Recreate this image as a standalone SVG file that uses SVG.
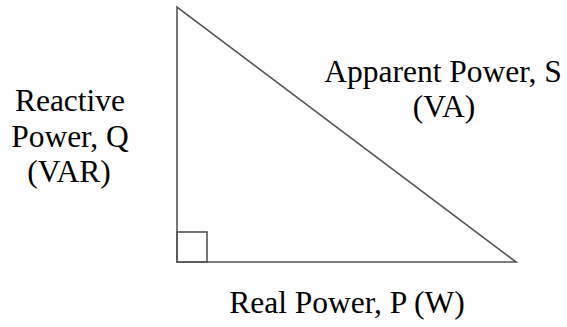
<svg xmlns="http://www.w3.org/2000/svg" width="567" height="327" viewBox="0 0 567 327">
<defs>
<linearGradient id="g" x1="177" y1="7" x2="380" y2="262" gradientUnits="userSpaceOnUse">
<stop offset="0" stop-color="#d9e2f3"/>
<stop offset="1" stop-color="#ffffff"/>
</linearGradient>
<style>
.lbl{font-size:31.5px;fill:#000;text-anchor:middle}
.edge{fill:none;stroke:#555;stroke-width:1.6;stroke-linejoin:miter}
</style>
</defs>
<rect width="567" height="327" fill="#fff"/>
<g id="triangle">
<polygon points="177,7 177,262 516,262" fill="url(#g)" class="edge"/>
<rect x="177" y="232" width="30" height="30" fill="url(#g)" class="edge"/>
</g>
<g font-family="'Liberation Serif', 'Times New Roman', serif">
<g id="label-q">
<text class="lbl" x="70" y="111">Reactive</text>
<text class="lbl" x="70" y="147">Power, Q</text>
<text class="lbl" x="69" y="182">(VAR)</text>
</g>
<g id="label-s">
<text class="lbl" x="443" y="82">Apparent Power, S</text>
<text class="lbl" x="444" y="117">(VA)</text>
</g>
<g id="label-p">
<text class="lbl" x="347" y="313">Real Power, P (W)</text>
</g>
</g>
</svg>
